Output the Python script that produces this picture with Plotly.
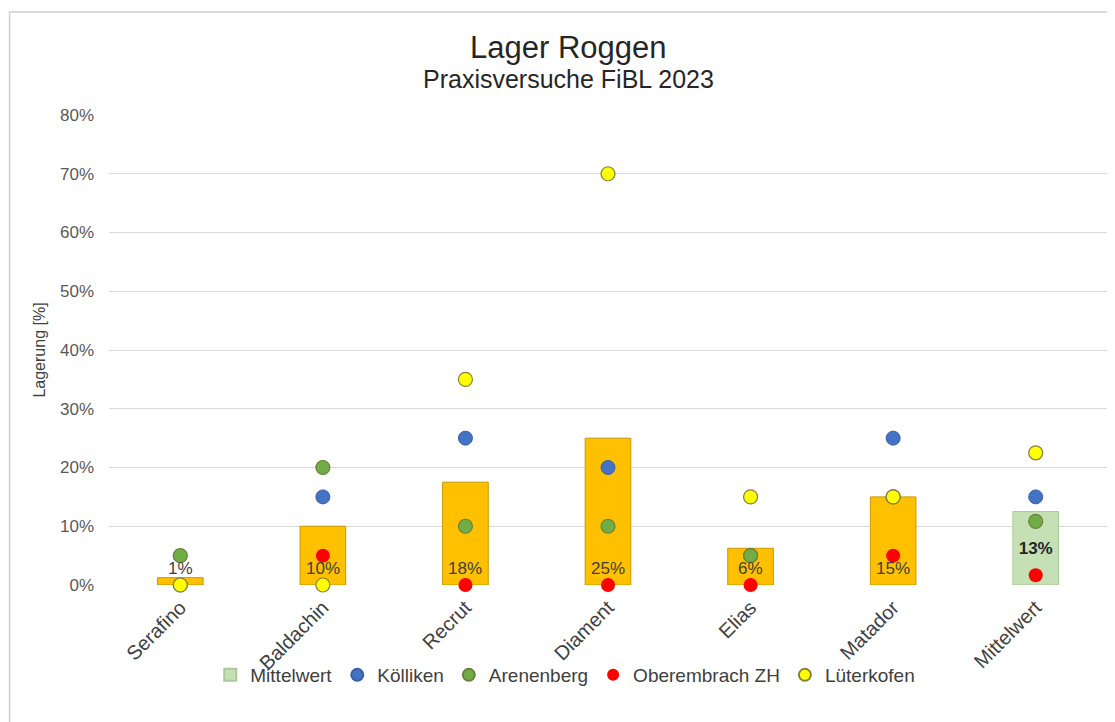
import math
import plotly.graph_objects as go

categories = ["Serafino", "Baldachin", "Recrut", "Diament", "Elias", "Matador", "Mittelwert"]
varieties = categories[:-1]

# Lagerung in %
mean_varieties = [1.25, 10, 17.5, 25, 6.25, 15]
mean_overall = [12.5]

koelliken = [0, 15, 25, 20, 5, 25, 15]
arenenberg = [5, 20, 10, 10, 5, 15, 10.83]
oberembrach = [0, 5, 0, 0, 0, 5, 1.67]
lueterkofen = [0, 0, 35, 70, 15, 15, 22.5]

y_ticks = [0, 10, 20, 30, 40, 50, 60, 70, 80]


def pct(v):
    return f"{math.floor(v + 0.5)}%"


FONT = "Arial, Liberation Sans, sans-serif"

fig = go.Figure()

# orange variety bars (no legend entry)
fig.add_trace(go.Bar(
    x=varieties, y=mean_varieties, width=0.32,
    marker=dict(color="#FFC000", line=dict(color="#C99700", width=1)),
    showlegend=False, hoverinfo="y",
))
# Mittelwert bar
fig.add_trace(go.Bar(
    x=["Mittelwert"], y=mean_overall, width=0.32, name="Mittelwert",
    marker=dict(color="#C5E0B4", line=dict(color="#A9C99A", width=1)),
    text=[pct(v) for v in mean_overall], textposition="inside",
    insidetextanchor="middle",
    textfont=dict(family=FONT, size=17, color="#262626", weight="bold"),
))

ms = 14
fig.add_trace(go.Scatter(
    x=categories, y=koelliken, mode="markers", name="Kölliken",
    marker=dict(color="#4472C4", size=ms, line=dict(color="#3A5FA0", width=1)),
    cliponaxis=False,
))
fig.add_trace(go.Scatter(
    x=categories, y=arenenberg, mode="markers", name="Arenenberg",
    marker=dict(color="#70AD47", size=ms, line=dict(color="#6B7F3A", width=1.2)),
    cliponaxis=False,
))
fig.add_trace(go.Scatter(
    x=categories, y=oberembrach, mode="markers", name="Oberembrach ZH",
    marker=dict(color="#FF0000", size=ms, line=dict(color="#FF0000", width=0)),
    cliponaxis=False,
))
fig.add_trace(go.Scatter(
    x=categories, y=lueterkofen, mode="markers", name="Lüterkofen",
    marker=dict(color="#FFFF00", size=ms, line=dict(color="#7F7F3F", width=1.2)),
    cliponaxis=False,
))

OFF = 8  # page body margin
W, H = 1115 - OFF, 722 - OFF
L = 108.5 - OFF
R = W - (1107 - OFF)
T = 115 - OFF
B = H - (585 - OFF)
pw = W - L - R
ph = H - T - B


def px_x(x):
    return (x - OFF - L) / pw


def px_y(y):
    return (H - B - (y - OFF)) / ph


annotations = [
    dict(text="Lager Roggen", xref="paper", yref="paper",
         x=px_x(568), y=px_y(47), xanchor="center", yanchor="middle",
         showarrow=False, font=dict(family=FONT, size=31, color="#262626")),
    dict(text="Praxisversuche FiBL 2023", xref="paper", yref="paper",
         x=px_x(568), y=px_y(79), xanchor="center", yanchor="middle",
         showarrow=False, font=dict(family=FONT, size=25, color="#262626")),
]
# data labels of variety bars at the base ("inside base")
for cat, v in zip(varieties, mean_varieties):
    annotations.append(dict(
        x=cat, y=0, xref="x", yref="y", text=pct(v), showarrow=False,
        xanchor="center", yanchor="bottom", yshift=5,
        font=dict(family=FONT, size=17, color="#404040"),
    ))

fig.update_layout(
    width=W, height=H,
    margin=dict(l=L, r=R, t=T, b=B, autoexpand=False),
    paper_bgcolor="white", plot_bgcolor="white",
    barmode="overlay",
    font=dict(family=FONT, color="#404040"),
    showlegend=True,
    legend=dict(
        orientation="h", x=px_x(565), xanchor="center", y=px_y(675), yanchor="middle",
        font=dict(family=FONT, size=19, color="#404040"),
        bgcolor="rgba(0,0,0,0)",
        itemwidth=30, tracegroupgap=0, itemsizing="constant",
        traceorder="normal",
    ),
    xaxis=dict(
        type="category", categoryorder="array", categoryarray=categories,
        range=[-0.5, len(categories) - 0.5],
        tickangle=-45, tickfont=dict(family=FONT, size=20, color="#404040"),
        showgrid=False, showline=False, zeroline=False, ticks="",
        ticklabelstandoff=6,
        automargin=False,
    ),
    yaxis=dict(
        range=[0, 80], tickvals=y_ticks, ticktext=[f"{v}%" for v in y_ticks],
        tickfont=dict(family=FONT, size=17, color="#595959"),
        gridcolor="#D9D9D9", gridwidth=1, zeroline=False, showline=False,
        ticks="", ticklabelstandoff=14,
        title=dict(text="Lagerung [%]", font=dict(family=FONT, size=16, color="#404040"),
                   standoff=10),
        automargin=False,
    ),
    annotations=annotations,
    shapes=[
        dict(type="rect", xref="paper", yref="paper", layer="below",
             x0=px_x(9), x1=px_x(1140), y0=px_y(760), y1=px_y(12),
             line=dict(color="#D0D0D0", width=1.5), fillcolor="rgba(0,0,0,0)"),
    ],
)

fig.write_html("out.html")
